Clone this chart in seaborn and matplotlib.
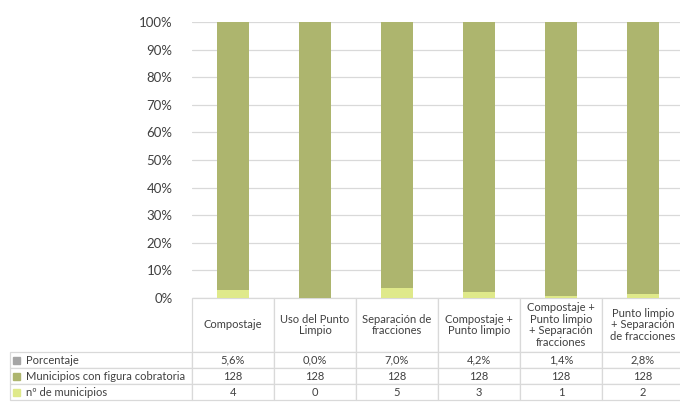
import numpy as np
import pandas as pd
import matplotlib
matplotlib.use("Agg")
import matplotlib.pyplot as plt
import seaborn as sns
from matplotlib.patches import Rectangle

categories = ["Compostaje", "Uso del Punto Limpio", "Separación de fracciones",
              "Compostaje + Punto limpio",
              "Compostaje + Punto limpio + Separación fracciones",
              "Punto limpio + Separación de fracciones"]
header_labels = ["Compostaje", "Uso del Punto\nLimpio", "Separación de\nfracciones",
                 "Compostaje +\nPunto limpio",
                 "Compostaje +\nPunto limpio\n+ Separación\nfracciones",
                 "Punto limpio\n+ Separación\nde fracciones"]
porcentaje = [5.6, 0.0, 7.0, 4.2, 1.4, 2.8]
municipios_figura = [128, 128, 128, 128, 128, 128]
n_municipios = [4, 0, 5, 3, 1, 2]

series_labels = ["Porcentaje", "Municipios con figura cobratoria", "nº de municipios"]
c_pct = "#a5a5a5"
c_fig = "#adb56e"
c_n = "#dfe98a"
text_c = "#404040"
grid_c = "#d9d9d9"

sns.set_theme(style="white")
plt.rcParams["font.family"] = ["Lato", "DejaVu Sans"]

df = pd.DataFrame({"categoria": categories, "n": n_municipios,
                   "fig": municipios_figura, "pct": porcentaje})
total = df["n"] + df["fig"] + df["pct"] / 100
df["top_pct"] = 100.0
df["top_fig"] = (df["n"] + df["fig"]) / total * 100
df["top_n"] = df["n"] / total * 100

fig = plt.figure(figsize=(6.8, 4.03), dpi=100)
W, H = 680, 403
ax_l, ax_r, ax_t, ax_b = 192, 684, 22, 298
ax = fig.add_axes([ax_l / W, 1 - ax_b / H, (ax_r - ax_l) / W, (ax_b - ax_t) / H])

# stacked bars: draw cumulative heights back to front
for col, c in [("top_pct", c_pct), ("top_fig", c_fig), ("top_n", c_n)]:
    sns.barplot(data=df, x="categoria", y=col, order=categories, color=c,
                saturation=1, width=0.4, linewidth=0, ax=ax, zorder=3)

ax.set_ylim(0, 100)
ax.set_xlim(-0.5, len(categories) - 0.5)
ax.set_yticks(np.arange(0, 101, 10))
ax.set_yticklabels([f"{v}%" for v in range(0, 101, 10)], fontsize=9.5, color=text_c)
ax.tick_params(axis="y", length=0, pad=14)
ax.set_xticks([])
ax.set_xlabel("")
ax.set_ylabel("")
ax.yaxis.grid(True, color=grid_c, linewidth=0.9)
ax.set_axisbelow(True)
for s in ax.spines.values():
    s.set_visible(False)

# data table below the plot
fmt_pct = [f"{p:.1f}%".replace(".", ",") for p in porcentaje]
rows = [[""] + header_labels,
        ["Porcentaje"] + fmt_pct,
        ["Municipios con figura cobratoria"] + [str(v) for v in municipios_figura],
        ["nº de municipios"] + [str(v) for v in n_municipios]]

tab_l, tab_r, tab_t, tab_b = 10, 684, 298, 400
axw, axh = ax_r - ax_l, ax_b - ax_t
tbl = ax.table(cellText=rows, cellLoc="center",
               bbox=[(tab_l - ax_l) / axw, -(tab_b - tab_t) / axh,
                     (tab_r - tab_l) / axw, (tab_b - tab_t) / axh])
tbl.auto_set_font_size(False)
tbl.set_fontsize(8)
row_h = [54, 16, 16, 16]
col_w = [ax_l - tab_l] + [82] * 6
for (r, cidx), cell in tbl.get_celld().items():
    cell.set_height(row_h[r])
    cell.set_width(col_w[cidx])
    cell.set_edgecolor(grid_c)
    cell.set_linewidth(0.9)
    cell.set_text_props(color=text_c, linespacing=1.1)
    if r == 0 and cidx == 0:
        cell.set_linewidth(0)
    if cidx == 0 and r > 0:
        cell.set_text_props(ha="left")
        cell.PAD = 0.09

# legend keys in the row labels
marker_colors = [c_pct, c_fig, c_n]
for i, mc in enumerate(marker_colors):
    yc = 298 + 54 + 16 * i + 8
    ax.add_patch(Rectangle(((13 - ax_l) / axw, (ax_b - yc - 3.5) / axh),
                           7 / axw, 7 / axh, transform=ax.transAxes,
                           color=mc, clip_on=False, zorder=5))

fig.savefig("out.png", dpi=100, facecolor="white")
